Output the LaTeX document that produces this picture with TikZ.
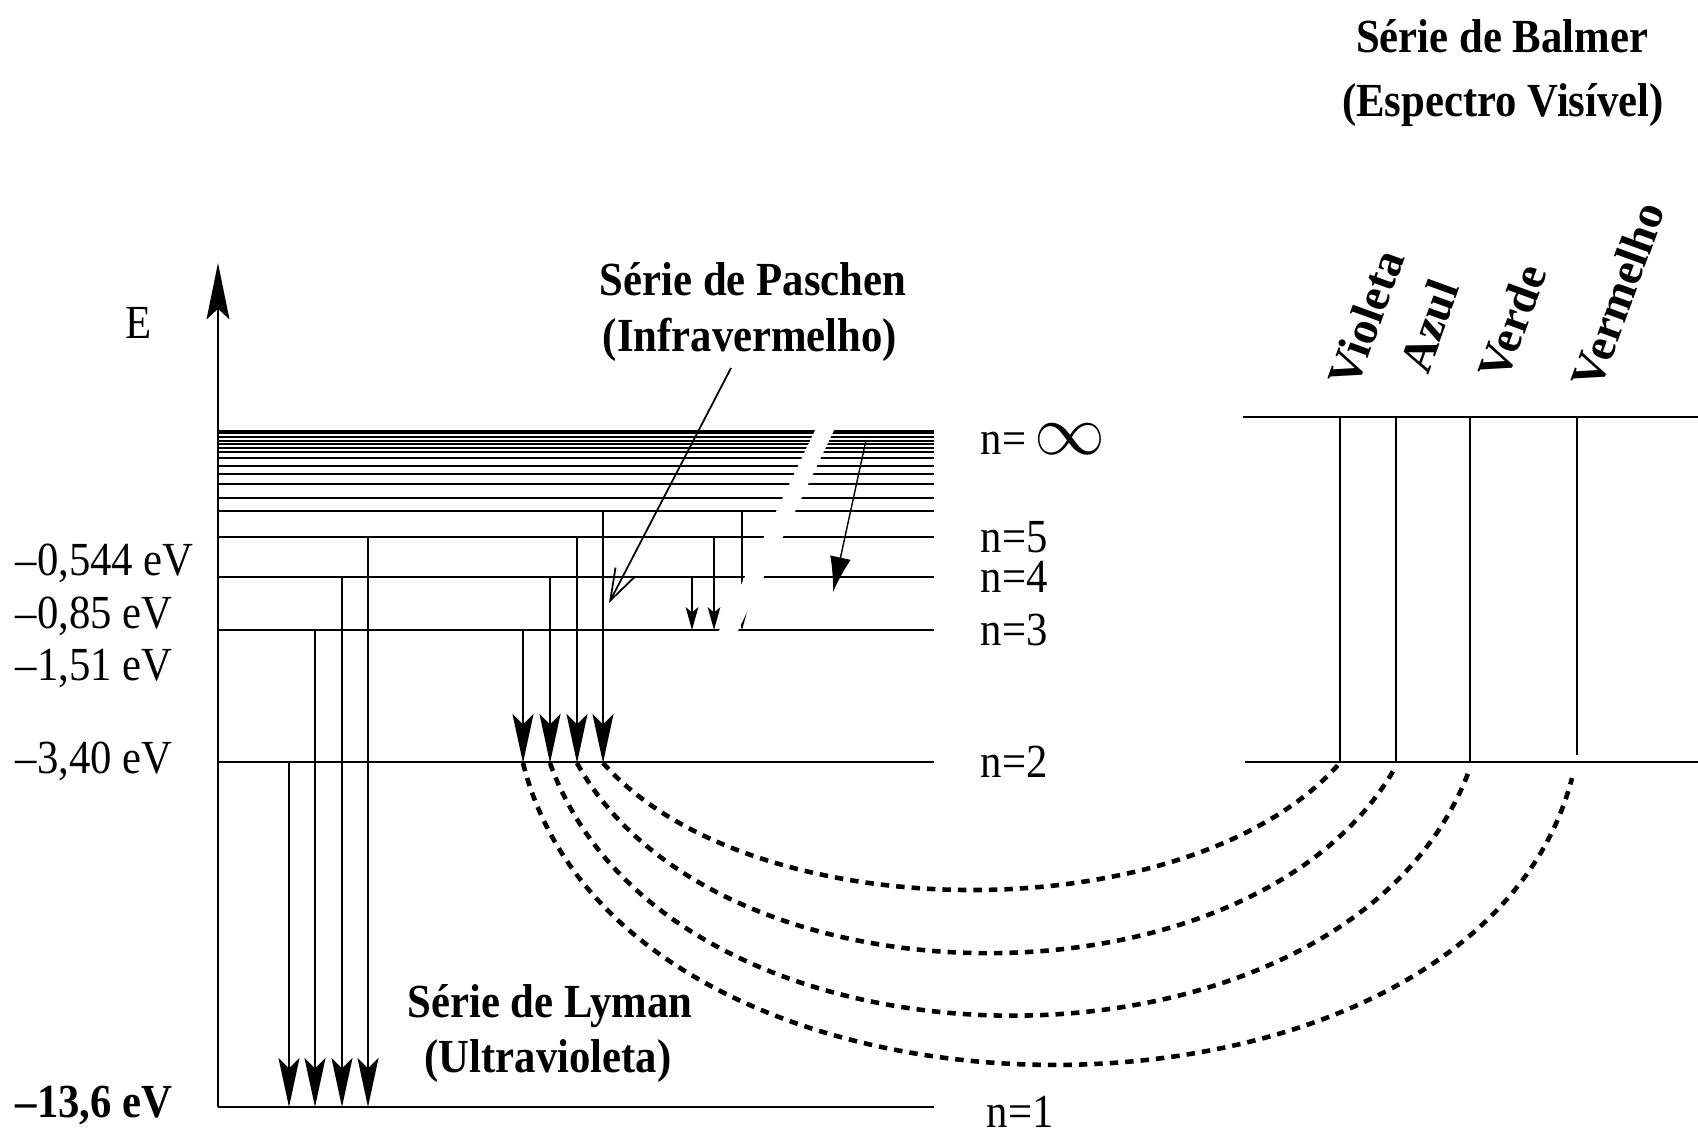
\documentclass[tikz,border=0pt]{standalone}
\usepackage{fontspec}
\setmainfont{Liberation Serif}[FakeStretch=0.9]
\newfontfamily\rotfont{Liberation Serif}
\usetikzlibrary{arrows.meta}

\begin{document}
\begin{tikzpicture}[x=0.01cm, y=-0.01cm,
  lvl/.style={line width=0.7pt},
  trans/.style={line width=0.5pt, -{Stealth[length=14pt, width=6pt, inset=3pt]}},
  smalltrans/.style={line width=0.5pt, -{Stealth[length=6.5pt, width=3.6pt, inset=1.5pt]}},
  spec/.style={line width=0.6pt},
  dasharc/.style={line width=1.3pt, dash pattern=on 2.4pt off 2pt},
  txt/.style={inner sep=0pt, font=\fontsize{13.5}{16}\selectfont},
  ttl/.style={inner sep=0pt, font=\fontsize{13.5}{16}\selectfont\bfseries},
  colour/.style={inner sep=0pt, rotate=70, font=\rotfont\fontsize{13.3}{15}\selectfont\bfseries}]
\useasboundingbox (0,0) rectangle (1698,1135);

\coordinate (origin) at (218,1107);
\coordinate (etop) at (218,263);
\draw[lvl, -{Stealth[length=16pt, width=6.5pt, inset=3pt]}] (origin) -- (etop);
\node[txt] (elabel) at (139,323) {E};

\foreach \y in {431,433,437,441,444,448,452,458,466,474,484,498,511,537,577,630,762,1107}
  \draw[lvl] (218,\y) -- (934,\y);

\node[txt, anchor=west] (ninf) at (980,439) {n=\,\scalebox{1.4}{$\infty$}};
\node[txt, anchor=west] (n5) at (980,537) {n=5};
\node[txt, anchor=west] (n4) at (980,577) {n=4};
\node[txt, anchor=west] (n3) at (980,630) {n=3};
\node[txt, anchor=west] (n2) at (980,762) {n=2};
\node[txt, anchor=west] (n1) at (986,1112) {n=1};

\node[txt, anchor=west] (e5) at (15,563) {--0,544 eV};
\node[txt, anchor=west] (e4) at (15,616) {--0,85 eV};
\node[txt, anchor=west] (e3) at (15,668) {--1,51 eV};
\node[txt, anchor=west] (e2) at (15,761) {--3,40 eV};
\node[ttl, anchor=west] (e1) at (15,1105) {--13,6 eV};

\foreach \n/\x/\y in {2/289/763, 3/315/630, 4/342/577, 5/368/537} {
  \coordinate (lu\n) at (\x,\y);
  \coordinate (ld\n) at (\x,1107);
  \draw[trans] (lu\n) -- (ld\n);
}

\foreach \n/\x/\y in {3/523/630, 4/550/577, 5/577/537, 6/603/511} {
  \coordinate (bu\n) at (\x,\y);
  \coordinate (bd\n) at (\x,763);
  \draw[trans] (bu\n) -- (bd\n);
}

\foreach \n/\x/\y in {4/692/577, 5/714/537, 6/742/511} {
  \coordinate (pu\n) at (\x,\y);
  \coordinate (pd\n) at (\x,630);
  \draw[smalltrans] (pu\n) -- (pd\n);
}
\coordinate (pinf) at (866,440);
\coordinate (pend) at (833,592);
\draw[line width=0.4pt, -{Latex[length=10pt, width=6pt]}] (pinf) -- (pend);
\fill[white] (818,424) -- (837,424) -- (735,637) -- (716,637) -- cycle;

\node[ttl] (paschen) at (753,279) {Série de Paschen};
\node[ttl] (paschen2) at (750,340) {(Infravermelho)};
\coordinate (pasfoot) at (731,368);
\coordinate (pastip) at (609,603);
\draw[line width=0.5pt, -{Straight Barb[length=9pt, width=6pt]}] (pasfoot) -- (pastip);

\node[ttl] (lyman) at (550,1006) {Série de Lyman};
\node[ttl] (lyman2) at (548,1061) {(Ultravioleta)};

\node[ttl] (balmer) at (1502,36) {Série de Balmer};
\node[ttl] (balmer2) at (1503,105) {(Espectro Visível)};

\draw[lvl] (1243,417) -- (1698,417);
\draw[lvl] (1245,762) -- (1698,762);
\foreach \x/\yb in {1340/762, 1396/762, 1470/762, 1577/755}
  \draw[spec] (\x,417) -- (\x,\yb);

\node[colour] (violeta) at (1366,318) {Violeta};
\node[colour] (azul) at (1429,326) {Azul};
\node[colour] (verde) at (1512,322) {Verde};
\node[colour] (vermelho) at (1618,295) {Vermelho};

\coordinate (rv) at (1338,765);
\coordinate (ra) at (1396,766);
\coordinate (rg) at (1470,768);
\coordinate (rr) at (1572,778);
\draw[dasharc] (bd6) .. controls +(150,169) and +(-150,167) .. (rv);
\draw[dasharc] (bd5) .. controls +(140,253) and +(-140,250) .. (ra);
\draw[dasharc] (bd4) .. controls +(120,336) and +(-120,331) .. (rg);
\draw[dasharc] (bd3) .. controls +(100,400) and +(-100,385) .. (rr);
\end{tikzpicture}
\end{document}
